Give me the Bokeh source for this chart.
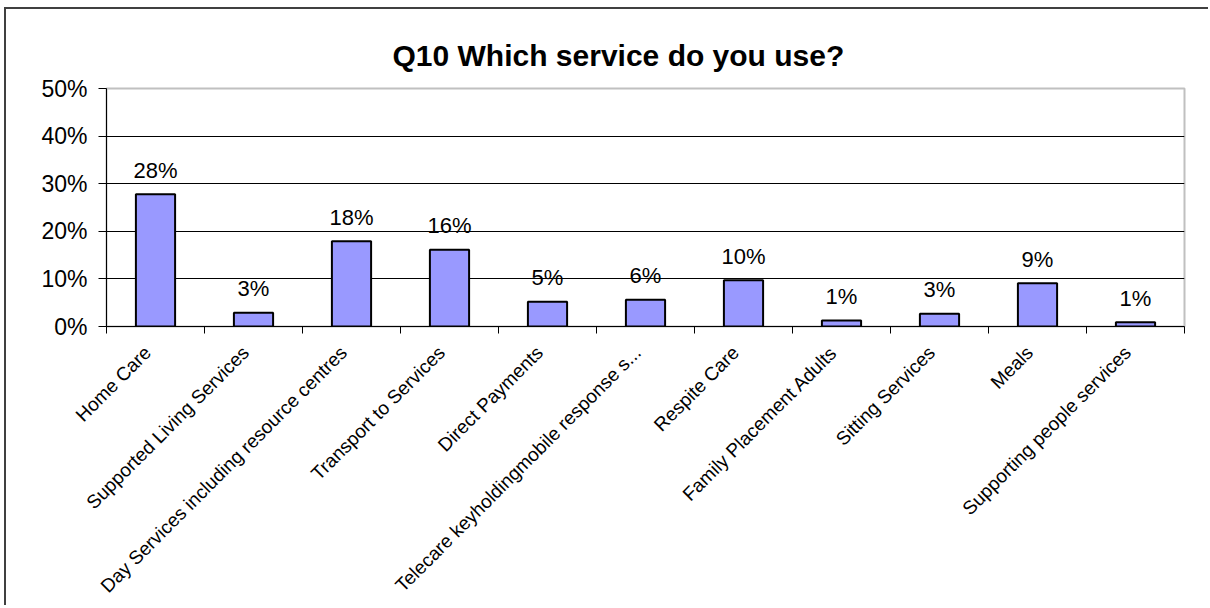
import math
from bokeh.plotting import figure
from bokeh.models import ColumnDataSource, FixedTicker, NumeralTickFormatter, Range1d, LabelSet
from bokeh.core.properties import value
from bokeh.embed import file_html
from bokeh.resources import INLINE

categories = ["Home Care", "Supported Living Services", "Day Services including resource centres",
              "Transport to Services", "Direct Payments", "Telecare keyholdingmobile response s...",
              "Respite Care", "Family Placement Adults", "Sitting Services", "Meals",
              "Supporting people services"]
values = [0.278, 0.029, 0.179, 0.161, 0.052, 0.056, 0.097, 0.0125, 0.027, 0.091, 0.009]
y_ticks = [0.0, 0.1, 0.2, 0.3, 0.4, 0.5]

n = len(categories)
xc = [i + 0.5 for i in range(n)]
label_pos = [x - 0.08 for x in xc]
labels = [f"{round(v * 100)}%" for v in values]
src = ColumnDataSource(dict(x=xc, top=values, label=labels))

FONT = "Liberation Sans"

p = figure(width=1204, height=598, output_backend="svg", toolbar_location=None,
           x_range=Range1d(0, n), y_range=Range1d(0, 0.5),
           min_border_left=100, min_border_right=26, min_border_top=79, min_border_bottom=200)
p.styles = {"border-left": "2px solid #404040", "border-top": "2px solid #404040",
            "margin-left": "4px", "margin-top": "7px"}

p.title.text = "Q10 Which service do you use?"
p.title.text_font = FONT
p.title.text_font_size = "30px"
p.title.text_font_style = "bold"
p.title.align = "left"
p.title.offset = 286
p.title.standoff = 34
p.title.text_color = "black"

p.vbar(x="x", top="top", width=0.4, bottom=0, source=src,
       fill_color="#9999FF", line_color="black", line_width=2)

p.add_layout(LabelSet(x="x", y="top", text="label", source=src, y_offset=24,
                      text_align="center", text_baseline="middle",
                      text_font=value(FONT), text_font_size=value("22px"), text_color="black"))

# y axis
p.yaxis.ticker = FixedTicker(ticks=y_ticks)
p.yaxis.formatter = NumeralTickFormatter(format="0%")
p.yaxis.major_label_text_font = FONT
p.yaxis.major_label_text_font_size = "23px"
p.yaxis.major_label_text_color = "black"
p.yaxis.major_tick_in = 0
p.yaxis.major_tick_out = 8
p.yaxis.minor_tick_line_color = None
p.yaxis.axis_line_color = "black"
p.yaxis.major_tick_line_color = "black"
p.yaxis.major_label_standoff = 11

# x axis
p.xaxis.ticker = FixedTicker(ticks=label_pos, minor_ticks=list(range(n + 1)))
p.xaxis.major_label_overrides = {x: c for x, c in zip(label_pos, categories)}
p.xaxis.major_label_orientation = math.pi / 4
p.xaxis.major_label_text_font = FONT
p.xaxis.major_label_text_font_size = "19px"
p.xaxis.major_label_text_color = "black"
p.xaxis.major_tick_in = 0
p.xaxis.major_tick_out = 0
p.xaxis.minor_tick_in = 0
p.xaxis.minor_tick_out = 7
p.xaxis.minor_tick_line_color = "black"
p.xaxis.axis_line_color = "black"
p.xaxis.major_label_standoff = 16

p.xgrid.grid_line_color = None
p.ygrid.ticker = FixedTicker(ticks=[0.1, 0.2, 0.3, 0.4])
p.ygrid.grid_line_color = "black"
p.ygrid.grid_line_width = 1

p.outline_line_color = "#c0c0c0"
p.outline_line_width = 2
p.background_fill_color = "white"
p.border_fill_color = "white"

open("out.html", "w").write(file_html(p, INLINE))
